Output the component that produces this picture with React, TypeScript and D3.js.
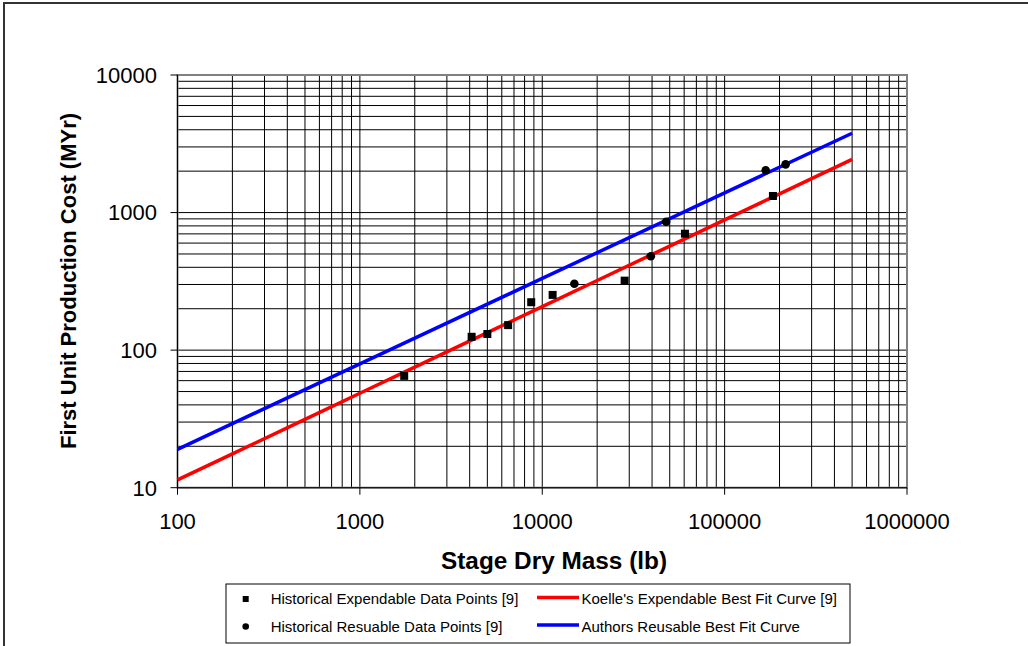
import React from "react";
import * as d3 from "d3";

const xTicks = [100, 1000, 10000, 100000, 1000000];
const yTicks = [10, 100, 1000, 10000];

const expMass = [1750, 4100, 5000, 6500, 8700, 11400, 28300, 60600, 184000];
const expCost = [65, 125, 131, 152, 223, 252, 320, 702, 1320];

const reuMass = [15000, 39400, 47800, 168000, 216000];
const reuCost = [304, 481, 858, 2030, 2240];

const koelleMass = [100, 200, 500, 1000, 2000, 5000, 10000, 20000, 50000, 100000, 200000, 500000];
const koelleCost = [11.4, 17.6, 31.4, 48.6, 75.3, 134, 207, 321, 571, 884, 1369, 2437];

const authorsMass = [100, 1000, 10000, 100000, 500000];
const authorsCost = [19, 79.5, 332, 1390, 3770];

const legendItems = [
  { label: "Historical Expendable Data Points [9]", kind: "square" },
  { label: "Historical Resuable Data Points [9]", kind: "circle" },
  { label: "Koelle's Expendable Best Fit Curve [9]", kind: "line", color: "#ff0000" },
  { label: "Authors Reusable Best Fit Curve", kind: "line", color: "#0000ff" },
];

const FONT = "'Liberation Sans', Arial, sans-serif";

export default function App() {
  const x = d3.scaleLog().domain([100, 1000000]).range([177.5, 907]);
  const y = d3.scaleLog().domain([10, 10000]).range([487.7, 75]);

  const xGrid: number[] = [];
  for (let i = 0; i < xTicks.length - 1; i++) {
    for (let k = 1; k <= 9; k++) xGrid.push(xTicks[i] * k);
  }
  xGrid.push(xTicks[xTicks.length - 1]);
  const yGrid: number[] = [];
  for (let i = 0; i < yTicks.length - 1; i++) {
    for (let k = 1; k <= 9; k++) yGrid.push(yTicks[i] * k);
  }
  yGrid.push(yTicks[yTicks.length - 1]);

  const line = d3
    .line<[number, number]>()
    .x((d) => x(d[0]))
    .y((d) => y(d[1]));

  const koelle = koelleMass.map((m, i) => [m, koelleCost[i]] as [number, number]);
  const authors = authorsMass.map((m, i) => [m, authorsCost[i]] as [number, number]);

  const [x0, x1] = x.range();
  const [y0, y1] = y.range();

  return (
    <svg
      width={1028}
      height={646}
      style={{ position: "absolute", left: 0, top: 0, background: "#fff" }}
      fontFamily={FONT}
    >
      <rect x={0} y={0} width={1028} height={646} fill="#fff" />
      <rect x={4} y={3} width={1040} height={660} fill="none" stroke="#333" strokeWidth={2} />

      {/* gridlines */}
      {yGrid.map((v, i) => (
        <line key={"yg" + i} x1={x0} x2={x1} y1={y(v)} y2={y(v)} stroke="#000" strokeWidth={1} />
      ))}
      {xGrid.map((v, i) => (
        <line key={"xg" + i} x1={x(v)} x2={x(v)} y1={y0} y2={y1} stroke="#000" strokeWidth={1} />
      ))}
      <rect x={x0} y={y1} width={x1 - x0} height={y0 - y1} fill="none" stroke="#808080" strokeWidth={2} />

      {/* axes */}
      <line x1={x0} x2={x0} y1={y1} y2={y0} stroke="#000" strokeWidth={1} />
      <line x1={x0} x2={x1} y1={y0} y2={y0} stroke="#000" strokeWidth={1} />
      {yTicks.map((v) => (
        <g key={"yt" + v}>
          <line x1={x0 - 7} x2={x0} y1={y(v)} y2={y(v)} stroke="#000" strokeWidth={1} />
          <text x={157} y={y(v)} dy="0.36em" textAnchor="end" fontSize={22} fill="#000">
            {v}
          </text>
        </g>
      ))}
      {xTicks.map((v) => (
        <g key={"xt" + v}>
          <line x1={x(v)} x2={x(v)} y1={y0} y2={y0 + 7} stroke="#000" strokeWidth={1} />
          <text x={x(v)} y={529} textAnchor="middle" fontSize={22} fill="#000">
            {v}
          </text>
        </g>
      ))}

      {/* axis titles */}
      <text
        x={554}
        y={569}
        textAnchor="middle"
        fontSize={23}
        fontWeight="bold"
        fill="#000"
        textLength={226}
        lengthAdjust="spacingAndGlyphs"
      >
        Stage Dry Mass (lb)
      </text>
      <text
        transform="translate(76,281) rotate(-90)"
        textAnchor="middle"
        fontSize={22}
        fontWeight="bold"
        fill="#000"
      >
        First Unit Production Cost (MYr)
      </text>

      {/* curves */}
      <path d={line(koelle) || ""} fill="none" stroke="#ff0000" strokeWidth={3.5} />
      <path d={line(authors) || ""} fill="none" stroke="#0000ff" strokeWidth={3.5} />

      {/* points */}
      {expMass.map((m, i) => (
        <rect key={"e" + i} x={x(m) - 4} y={y(expCost[i]) - 4} width={8} height={8} fill="#000" />
      ))}
      {reuMass.map((m, i) => (
        <circle key={"r" + i} cx={x(m)} cy={y(reuCost[i])} r={4.3} fill="#000" />
      ))}

      {/* legend */}
      <rect x={226} y={584} width={624} height={59} fill="#fff" stroke="#000" strokeWidth={1} />
      {legendItems.map((it, i) => {
        const col = i < 2 ? 0 : 1;
        const row = i % 2;
        const cy = 599 + row * 27.5;
        const mx = col === 0 ? 245.7 : 558;
        const tx = col === 0 ? 270.7 : 581.5;
        return (
          <g key={"lg" + i}>
            {it.kind === "square" && <rect x={mx - 3} y={cy - 3} width={6} height={6} fill="#000" />}
            {it.kind === "circle" && <circle cx={mx} cy={cy} r={3.3} fill="#000" />}
            {it.kind === "line" && (
              <line x1={537} x2={579} y1={cy - 1.5} y2={cy - 1.5} stroke={it.color} strokeWidth={3.5} />
            )}
            <text x={tx} y={cy + 5} fontSize={15} fill="#000">
              {it.label}
            </text>
          </g>
        );
      })}
    </svg>
  );
}
